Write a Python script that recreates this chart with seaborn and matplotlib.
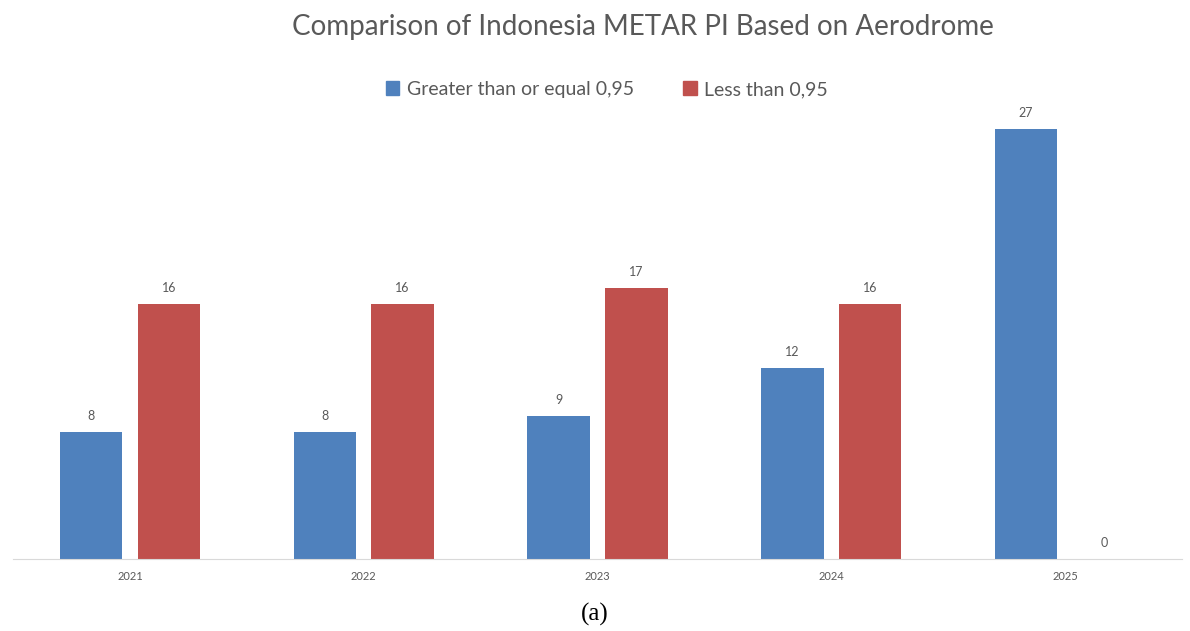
import pandas as pd
import matplotlib
matplotlib.use("Agg")
import matplotlib.pyplot as plt
import seaborn as sns

# chart values
years = ["2021", "2022", "2023", "2024", "2025"]
ge_095 = [8, 8, 9, 12, 27]
lt_095 = [16, 16, 17, 16, 0]
series_names = ["Greater than or equal 0,95", "Less than 0,95"]
colors = ["#4F81BD", "#C0504D"]

df = pd.DataFrame({
    "year": years * 2,
    "value": ge_095 + lt_095,
    "series": [series_names[0]] * len(years) + [series_names[1]] * len(years),
})

sns.set_style("white")
plt.rcParams['font.family'] = ['Lato', 'DejaVu Sans']

fig = plt.figure(figsize=(11.9, 6.31), dpi=100)
ax = fig.add_axes([13 / 1190, 72 / 631, 1169 / 1190, 459 / 631])

sns.barplot(data=df, x="year", y="value", hue="series", palette=colors,
            saturation=1, width=0.667, gap=0.2, ax=ax, legend=False,
            linewidth=0)

# data labels
for cont in ax.containers:
    ax.bar_label(cont, padding=7, fontsize=9, color="#595959")

ax.set_ylim(0, 28.8)
ax.set_xlim(-0.5, 4.5)
ax.set_xlabel("")
ax.set_ylabel("")
ax.set_yticks([])
ax.tick_params(axis="x", length=0, labelsize=8, labelcolor="#595959", pad=9)
for s in ["top", "left", "right"]:
    ax.spines[s].set_visible(False)
ax.spines["bottom"].set_color("#D9D9D9")

fig.text(0.54, 0.958, "Comparison of Indonesia METAR PI Based on Aerodrome",
         ha="center", va="center", fontsize=20, color="#595959")

handles = [plt.Rectangle((0, 0), 1, 1, color=c) for c in colors]
fig.legend(handles, series_names, loc="center", bbox_to_anchor=(0.51, 0.858),
           ncol=2, frameon=False, fontsize=14, labelcolor="#595959",
           handlelength=0.7, handleheight=0.7, handletextpad=0.4, columnspacing=2.5)

fig.text(0.5, 0.027, "(a)", ha="center", va="center", fontsize=18,
         color="black", family=["Liberation Serif", "DejaVu Serif"])

fig.savefig("out.png", dpi=100, facecolor="white")
